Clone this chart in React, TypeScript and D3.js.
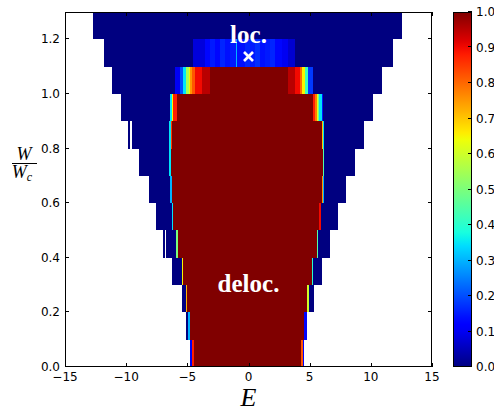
import React from 'react';
import * as d3 from 'd3';

// Heat map of the delocalised fraction over energy E and disorder W/Wc.

const WIDTH = 494;
const HEIGHT = 412;

const xTicks = [-15, -10, -5, 0, 5, 10, 15];
const yTicks = [0, 0.2, 0.4, 0.6, 0.8, 1.0, 1.2];
const cbTicks = [0, 0.1, 0.2, 0.3, 0.4, 0.5, 0.6, 0.7, 0.8, 0.9, 1.0];

// Lower edge of each disorder row (rows are 0.1 tall).
const rowLow = [0, 0.1, 0.2, 0.3, 0.4, 0.5, 0.6, 0.7, 0.8, 0.9, 1.0, 1.1, 1.2];

// Each band: [E start, E end, fraction]
type Band = [number, number, number];

const row00: Band[] = [[-4.78, -4.64, 0.1], [-4.64, -4.46, 0.88], [-4.46, 4.29, 1], [4.29, 4.43, 0.82], [4.43, 4.51, 0.12]];
const row01: Band[] = [[-5.13, -4.92, 0], [-4.92, -4.81, 0.3], [-4.81, 4.54, 1], [4.54, 4.76, 0.13]];
const row02: Band[] = [[-5.46, -5.13, 0], [-5.13, -5.0, 0.72], [-5.0, 4.81, 1], [4.81, 4.95, 0.6], [4.95, 5.38, 0]];
const row03: Band[] = [[-6.23, -5.46, 0], [-5.46, -5.33, 0.65], [-5.33, 5.17, 1], [5.17, 5.3, 0.4], [5.3, 6.03, 0]];
const row04: Band[] = [[-6.96, -6.83, 0], [-6.74, -5.93, 0], [-5.93, -5.77, 0.5], [-5.77, 5.58, 1], [5.58, 5.71, 0.45], [5.71, 6.66, 0]];
const row05: Band[] = [[-7.53, -6.28, 0], [-6.28, -6.14, 0.35], [-6.14, 5.79, 1], [5.79, 5.93, 0.9], [5.93, 7.29, 0]];
const row06: Band[] = [[-8.13, -6.42, 0], [-6.42, -6.28, 0.3], [-6.28, 6.03, 1], [6.03, 6.1, 0.75], [6.1, 6.17, 0.3], [6.17, 7.95, 0]];
const row07: Band[] = [[-8.93, -6.47, 0], [-6.47, -6.34, 0.35], [-6.34, 6.05, 1], [6.05, 6.18, 0.45], [6.18, 8.71, 0]];
const row08: Band[] = [[-9.83, -9.69, 0], [-9.55, -6.5, 0], [-6.5, -6.36, 0.35], [-6.36, -6.25, 0.85], [-6.25, 5.98, 1], [5.98, 6.12, 0.7], [6.12, 6.21, 0.35], [6.21, 9.47, 0]];
const row09: Band[] = [[-10.42, -6.42, 0], [-6.42, -6.28, 0.35], [-6.28, -6.14, 0.65], [-6.14, -5.87, 0.88], [-5.87, 5.3, 1], [5.3, 5.44, 0.88], [5.44, 5.58, 0.78], [5.58, 5.71, 0.62], [5.71, 5.79, 0.5], [5.79, 5.98, 0.35], [5.98, 6.11, 0.15], [6.11, 10.15, 0]];
const row10: Band[] = [[-11.18, -6.01, 0], [-6.01, -5.6, 0.1], [-5.6, -5.33, 0.2], [-5.33, -5.11, 0.35], [-5.11, -4.9, 0.55], [-4.9, -4.78, 0.65], [-4.78, -4.64, 0.75], [-4.64, -4.37, 0.82], [-4.37, -3.83, 0.9], [-3.83, -3.15, 0.95], [-3.15, 3.25, 1], [3.25, 3.8, 0.95], [3.8, 4.21, 0.9], [4.21, 4.4, 0.8], [4.4, 4.62, 0.65], [4.62, 4.89, 0.42], [4.89, 5.3, 0.18], [5.3, 10.89, 0]];
const row11: Band[] = [[-11.81, -4.54, 0], [-4.54, -3.56, 0.08], [-3.56, -3.15, 0.13], [-3.15, -2.74, 0.15], [-2.74, -2.33, 0.13], [-2.33, -1.92, 0.16], [-1.92, -1.51, 0.14], [-1.51, -1.02, 0.15], [-1.02, -0.92, 0.3], [-0.92, -0.29, 0.14], [-0.29, 0.12, 0.16], [0.12, 0.53, 0.15], [0.53, 0.94, 0.17], [0.94, 1.35, 0.14], [1.35, 1.76, 0.15], [1.76, 2.17, 0.16], [2.17, 2.71, 0.13], [2.71, 3.23, 0.1], [3.23, 3.8, 0.07], [3.8, 11.79, 0]];
const row12: Band[] = [[-12.74, 12.52, 0]];

const rows: Band[][] = [row00, row01, row02, row03, row04, row05, row06, row07, row08, row09, row10, row11, row12];
const rowHeight = 0.1;

// Jet colour map, piecewise linear per channel.
const jetR = d3.scaleLinear().domain([0, 0.35, 0.66, 0.89, 1]).range([0, 0, 1, 1, 0.5]).clamp(true);
const jetG = d3.scaleLinear().domain([0, 0.125, 0.375, 0.64, 0.91, 1]).range([0, 0, 1, 1, 0, 0]).clamp(true);
const jetB = d3.scaleLinear().domain([0, 0.11, 0.34, 0.65, 1]).range([0.5, 1, 1, 0, 0]).clamp(true);
const jet = (v: number) =>
  d3.rgb(Math.round(jetR(v) * 255), Math.round(jetG(v) * 255), Math.round(jetB(v) * 255)).formatHex();

const plot = { left: 65, right: 432, top: 12, bottom: 367 };
const cb = { left: 453, right: 472 };

export default function App() {
  const x = d3.scaleLinear().domain([-15, 15]).range([plot.left, plot.right]);
  const y = d3.scaleLinear().domain([0, 1.3]).range([plot.bottom, plot.top]);
  const c = d3.scaleLinear().domain([0, 1]).range([plot.bottom, plot.top]);
  const tickLen = 4;
  const sans = 'DejaVu Sans, sans-serif';
  const serif = 'Liberation Serif, serif';
  const gradStops = d3.range(0, 1.0001, 0.02);

  return (
    <svg width={WIDTH} height={HEIGHT} style={{ position: 'absolute', left: 0, top: 0, background: '#fff' }}>
      <defs>
        <linearGradient id="jetGrad" x1="0" y1="1" x2="0" y2="0">
          {gradStops.map((t, i) => (
            <stop key={i} offset={t} stopColor={jet(t)} />
          ))}
        </linearGradient>
      </defs>

      {/* heat map rows */}
      <g shapeRendering="crispEdges">
        {rows.map((bands, ri) =>
          bands.map((b, bi) => (
            <rect
              key={`${ri}-${bi}`}
              x={x(b[0])}
              y={y(rowLow[ri] + rowHeight)}
              width={x(b[1]) - x(b[0])}
              height={y(rowLow[ri]) - y(rowLow[ri] + rowHeight)}
              fill={jet(b[2])}
            />
          ))
        )}
      </g>

      {/* annotations */}
      <text x={x(0)} y={43} textAnchor="middle" fill="#fff" fontFamily={serif} fontWeight="bold" fontSize={25}>loc.</text>
      <g stroke="#fff" strokeWidth={2.6} strokeLinecap="butt">
        <line x1={x(0) - 4.5} y1={52} x2={x(0) + 4.5} y2={61} />
        <line x1={x(0) - 4.5} y1={61} x2={x(0) + 4.5} y2={52} />
      </g>
      <text x={x(0)} y={292} textAnchor="middle" fill="#fff" fontFamily={serif} fontWeight="bold" fontSize={25}>deloc.</text>

      {/* frame and ticks */}
      <rect x={plot.left + 0.5} y={plot.top + 0.5} width={plot.right - plot.left - 1} height={plot.bottom - plot.top - 1} fill="none" stroke="#000" strokeWidth={1} />
      <g stroke="#000" strokeWidth={1}>
        {xTicks.map((t) => (
          <g key={`xt${t}`}>
            <line x1={Math.round(x(t)) + 0.5} x2={Math.round(x(t)) + 0.5} y1={plot.bottom} y2={plot.bottom - tickLen} />
            <line x1={Math.round(x(t)) + 0.5} x2={Math.round(x(t)) + 0.5} y1={plot.top} y2={plot.top + tickLen} />
          </g>
        ))}
        {yTicks.map((t) => (
          <g key={`yt${t}`}>
            <line x1={plot.left} x2={plot.left + tickLen} y1={Math.round(y(t)) - 0.5} y2={Math.round(y(t)) - 0.5} />
            <line x1={plot.right} x2={plot.right - tickLen} y1={Math.round(y(t)) - 0.5} y2={Math.round(y(t)) - 0.5} />
          </g>
        ))}
      </g>
      <g fontFamily={sans} fontSize={12} fill="#000">
        {xTicks.map((t) => (
          <text key={`xl${t}`} x={x(t)} y={381} textAnchor="middle">
            {t < 0 ? `\u2212${Math.abs(t)}` : `${t}`}
          </text>
        ))}
        {yTicks.map((t) => (
          <text key={`yl${t}`} x={60} y={y(t)} textAnchor="end" dominantBaseline="central">
            {t.toFixed(1)}
          </text>
        ))}
      </g>

      {/* axis labels */}
      <text x={x(0)} y={406} textAnchor="middle" fontFamily={serif} fontStyle="italic" fontSize={26}>E</text>
      <g fontFamily={serif} fontStyle="italic">
        <text x={24} y={160} textAnchor="middle" fontSize={18}>W</text>
        <line x1={12} x2={37} y1={163.5} y2={163.5} stroke="#000" strokeWidth={1} />
        <text x={22} y={178} textAnchor="middle" fontSize={18}>
          W<tspan fontSize={12} dy={3}>c</tspan>
        </text>
      </g>

      {/* colour bar */}
      <rect x={cb.left} y={plot.top} width={cb.right - cb.left} height={plot.bottom - plot.top} fill="url(#jetGrad)" />
      <rect x={cb.left + 0.5} y={plot.top + 0.5} width={cb.right - cb.left - 1} height={plot.bottom - plot.top - 1} fill="none" stroke="#000" strokeWidth={1} />
      <g stroke="#000" strokeWidth={1}>
        {cbTicks.map((t) => (
          <line key={`ct${t}`} x1={cb.right} x2={cb.right - tickLen} y1={Math.round(c(t)) - 0.5} y2={Math.round(c(t)) - 0.5} />
        ))}
      </g>
      <g fontFamily={sans} fontSize={12} fill="#000">
        {cbTicks.map((t) => (
          <text key={`cl${t}`} x={476} y={c(t)} dominantBaseline="central">
            {t.toFixed(1)}
          </text>
        ))}
      </g>
    </svg>
  );
}
